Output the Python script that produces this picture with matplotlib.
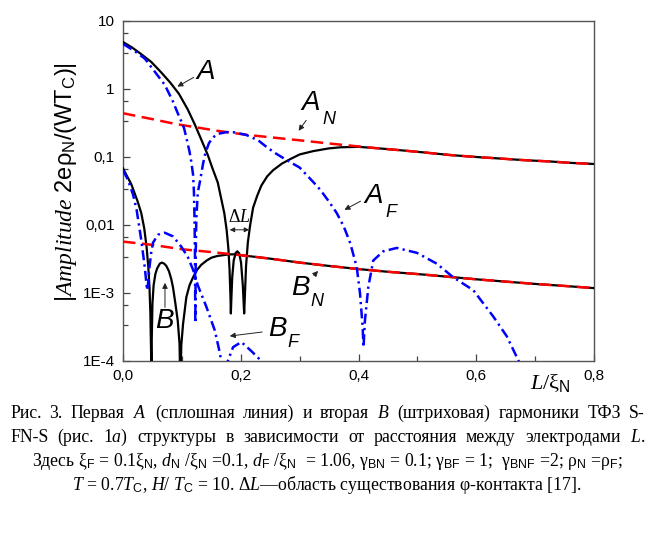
import matplotlib
matplotlib.use('Agg')
import matplotlib.pyplot as plt
from matplotlib.ticker import FixedLocator, NullFormatter

plt.rcParams['mathtext.fontset'] = 'custom'
plt.rcParams['mathtext.rm'] = 'Liberation Sans'
plt.rcParams['mathtext.it'] = 'Liberation Serif:italic'
plt.rcParams['mathtext.sf'] = 'Liberation Sans:italic'
plt.rcParams['font.family'] = ['Liberation Sans', 'DejaVu Sans']

# ---------------- data ----------------
# first harmonic A (black solid)
L_A = [0.000, 0.015, 0.030, 0.048, 0.065, 0.080, 0.095, 0.110, 0.122, 0.133,
       0.144, 0.152, 0.161, 0.167, 0.172, 0.176, 0.179, 0.181, 0.1825, 0.1832,
       0.184, 0.1855, 0.188, 0.1915, 0.1943, 0.1975, 0.2005, 0.2035, 0.205, 0.2058,
       0.207, 0.209, 0.212, 0.216, 0.221, 0.228, 0.235, 0.245, 0.255, 0.270,
       0.284, 0.300, 0.323, 0.350, 0.370, 0.400, 0.430, 0.470, 0.510, 0.555,
       0.600, 0.640, 0.680, 0.725, 0.760, 0.800]
A_val = [4.9, 4.1, 3.3, 2.5, 1.75, 1.25, 0.85, 0.50, 0.30, 0.18,
         0.107, 0.068, 0.042, 0.024, 0.015, 0.0085, 0.0045, 0.0022, 0.0009, 0.0005,
         0.0008, 0.0017, 0.0030, 0.0039, 0.0041, 0.0038, 0.0028, 0.0013, 0.0007, 0.0005,
         0.0009, 0.0025, 0.0055, 0.010, 0.018, 0.027, 0.038, 0.052, 0.064, 0.080,
         0.093, 0.109, 0.122, 0.134, 0.139, 0.141, 0.135, 0.126, 0.117, 0.107,
         0.100, 0.095, 0.090, 0.086, 0.082, 0.079]

# A_N (red dashed)
L_AN = [0.00, 0.05, 0.09, 0.13, 0.16, 0.21, 0.25, 0.30, 0.35, 0.40,
        0.43, 0.47, 0.51, 0.555, 0.60, 0.64, 0.68, 0.725, 0.76, 0.80]
AN_val = [0.44, 0.36, 0.305, 0.268, 0.243, 0.212, 0.195, 0.176, 0.158, 0.143,
          0.135, 0.126, 0.117, 0.107, 0.100, 0.095, 0.090, 0.086, 0.082, 0.079]

# A_F (blue dash-dot)
L_AF = [0.000, 0.020, 0.037, 0.055, 0.071, 0.085, 0.093, 0.100, 0.104, 0.109,
        0.113, 0.116, 0.119, 0.1205, 0.1215, 0.1222, 0.1228, 0.1236, 0.1245, 0.127,
        0.131, 0.136, 0.140, 0.146, 0.153, 0.162, 0.176, 0.190, 0.210, 0.230,
        0.244, 0.260, 0.278, 0.300, 0.323, 0.335, 0.350, 0.363, 0.375, 0.386,
        0.397, 0.4025, 0.407, 0.4085, 0.411, 0.4167, 0.425, 0.442, 0.465, 0.499,
        0.533, 0.561, 0.595, 0.629, 0.652, 0.672, 0.680]
AF_val = [4.6, 3.6, 2.8, 1.75, 1.15, 0.65, 0.44, 0.32, 0.26, 0.17,
          0.12, 0.085, 0.055, 0.030, 0.012, 0.004, 0.00036, 0.004, 0.012, 0.030,
          0.045, 0.080, 0.115, 0.160, 0.195, 0.220, 0.232, 0.230, 0.210, 0.175,
          0.140, 0.112, 0.090, 0.070, 0.043, 0.033, 0.022, 0.015, 0.0095, 0.0054,
          0.0024, 0.0010, 0.00032, 0.00016, 0.0004, 0.00123, 0.0030, 0.0041, 0.0046, 0.0039,
          0.0027, 0.0017, 0.0011, 0.00045, 0.00023, 0.0001, 0.00006]

# second harmonic B (black solid)
L_B = [0.000, 0.007, 0.014, 0.025, 0.031, 0.036, 0.040, 0.043, 0.045, 0.0465,
       0.0478, 0.0482, 0.0488, 0.050, 0.052, 0.055, 0.058, 0.0625, 0.066, 0.070,
       0.0736, 0.078, 0.082, 0.085, 0.089, 0.093, 0.096, 0.0975, 0.099, 0.102,
       0.1076, 0.113, 0.119, 0.126, 0.133, 0.142, 0.150, 0.160, 0.170, 0.180,
       0.190, 0.200, 0.250, 0.300, 0.350, 0.400, 0.450, 0.500, 0.550, 0.600,
       0.650, 0.700, 0.750, 0.800]
B_val = [0.068, 0.052, 0.040, 0.022, 0.015, 0.009, 0.0048, 0.0024, 0.0012, 0.0005,
         0.00012, 0.00004, 0.0002, 0.0007, 0.0013, 0.0019, 0.0023, 0.0027, 0.0028, 0.0027,
         0.0025, 0.0021, 0.0016, 0.0012, 0.0007, 0.00039, 0.00018, 0.00004, 0.00017, 0.00035,
         0.00087, 0.0013, 0.0017, 0.0022, 0.0026, 0.0030, 0.0033, 0.0035, 0.0036, 0.0037,
         0.0037, 0.0036, 0.0032, 0.0028, 0.0025, 0.00225, 0.00205, 0.0019, 0.00174, 0.00159,
         0.00147, 0.00136, 0.00127, 0.00118]

# B_N (red dashed)
L_BN = [0.00, 0.05, 0.10, 0.15, 0.20, 0.25, 0.30, 0.35, 0.40, 0.45,
        0.50, 0.55, 0.60, 0.65, 0.70, 0.75, 0.80]
BN_val = [0.0057, 0.0051, 0.0044, 0.0040, 0.0036, 0.0032, 0.0028, 0.0025, 0.00225, 0.00205,
          0.0019, 0.00174, 0.00159, 0.00147, 0.00136, 0.00127, 0.00118]

# B_F (blue dash-dot)
L_BF = [0.000, 0.0085, 0.017, 0.023, 0.031, 0.037, 0.040, 0.041, 0.043, 0.045,
        0.048, 0.051, 0.0594, 0.0708, 0.085, 0.099, 0.110, 0.119, 0.127, 0.1415,
        0.156, 0.163, 0.167, 0.1725, 0.178, 0.187, 0.201, 0.218, 0.235, 0.245]
BF_val = [0.064, 0.046, 0.028, 0.017, 0.006, 0.0024, 0.0013, 0.0011, 0.0015, 0.0024,
          0.0040, 0.0055, 0.0072, 0.0077, 0.0068, 0.0048, 0.0034, 0.0022, 0.0013, 0.00063,
          0.00028, 0.00015, 0.0001, 0.00003, 0.0001, 0.00016, 0.00019, 0.00014, 0.0001, 0.00006]

y_ticks = [1e-4, 1e-3, 1e-2, 1e-1, 1, 10]
y_ticklabels = ['1E-4', '1E-3', '0,01', '0,1', '1', '10']
x_ticks = [0.0, 0.2, 0.4, 0.6, 0.8]
x_ticklabels = ['0,0', '0,2', '0,4', '0,6', '0,8']

# ---------------- figure ----------------
fig = plt.figure(figsize=(6.53, 5.40), dpi=100)
ax = fig.add_axes([123/653, 1 - 361/540, 471/653, 340/540])

BLACK = '#000000'
RED = '#ff0000'
BLUE = '#0000ff'

ax.plot(L_A, A_val, color=BLACK, lw=1.6, zorder=3)
ax.plot(L_B, B_val, color=BLACK, lw=1.6, zorder=3)
ax.plot(L_AN, AN_val, color=RED, lw=1.8, dashes=(5, 2.6), zorder=4)
ax.plot(L_BN, BN_val, color=RED, lw=1.8, dashes=(5, 2.6), zorder=4)
ax.plot(L_AF, AF_val, color=BLUE, lw=1.8, dashes=(4, 1.7, 0.9, 1.7), zorder=5)
ax.plot(L_BF, BF_val, color=BLUE, lw=1.8, dashes=(4, 1.7, 0.9, 1.7), zorder=5)

ax.set_yscale('log')
ax.set_xlim(0, 0.8)
ax.set_ylim(1e-4, 10)
ax.set_yticks(y_ticks)
ax.set_yticklabels(y_ticklabels)
minor_y = []
for k in range(-4, 1):
    minor_y += [10**k * 10/3, 10**k * 20/3]
ax.yaxis.set_minor_locator(FixedLocator(minor_y))
ax.yaxis.set_minor_formatter(NullFormatter())
ax.set_xticks(x_ticks)
ax.set_xticklabels(x_ticklabels)
ax.xaxis.set_minor_locator(FixedLocator([0.1, 0.3, 0.5, 0.7]))

ax.tick_params(which='both', direction='in', color='#444444', width=0.9,
               labelsize=11, top=False, right=False)
ax.tick_params(which='major', length=5)
ax.tick_params(which='minor', length=3.5)
ax.tick_params(axis='y', which='both', pad=6)
ax.tick_params(axis='x', which='both', pad=6)
for s in ax.spines.values():
    s.set_color('#555555')
    s.set_linewidth(1.0)

# axis labels
fig.text(66/653, 1 - 182/540,
         r'|$\mathit{Amplitude}$ 2eρ$_\mathrm{N}$/(WT$_\mathrm{C}$)|',
         rotation=90, ha='center', va='center', fontsize=17,
         family='Liberation Sans')
fig.text(550/653, 1 - 383/540, r'$\mathit{L}$/ξ$_\mathrm{N}$',
         ha='center', va='center', fontsize=16, family='Liberation Serif')

# curve labels
lab = dict(fontsize=20, style='italic', family='Liberation Sans', ha='center', va='center')
sub = dict(fontsize=13, style='italic', family='Liberation Sans', ha='left', va='center')
arr = dict(arrowstyle='-|>', color='#222222', lw=0.7, mutation_scale=8)

ax.text(0.141, 1.78, 'A', **lab)
ax.annotate('', xy=(0.0883, 1.035), xytext=(0.124, 1.55), arrowprops=arr)

ax.text(0.319, 0.622, 'A', **lab)
ax.text(0.339, 0.36, 'N', **sub)
ax.annotate('', xy=(0.2955, 0.2254), xytext=(0.314, 0.374), arrowprops=arr)

ax.text(0.426, 0.0267, 'A', **lab)
ax.text(0.446, 0.0155, 'F', **sub)
ax.annotate('', xy=(0.372, 0.016), xytext=(0.4076, 0.0234), arrowprops=arr)

ax.text(0.302, 1.19e-3, 'B', **lab)
ax.text(0.318, 7.6e-4, 'N', **sub)
ax.annotate('', xy=(0.3346, 2.26e-3), xytext=(0.321, 1.69e-3), arrowprops=arr)

ax.text(0.0696, 3.9e-4, 'B', **lab)
ax.annotate('', xy=(0.0713, 1.55e-3), xytext=(0.0713, 5.6e-4), arrowprops=arr)

ax.text(0.263, 2.96e-4, 'B', **lab)
ax.text(0.280, 1.9e-4, 'F', **sub)
ax.annotate('', xy=(0.1766, 2.3e-4), xytext=(0.241, 2.7e-4), arrowprops=arr)

ax.text(0.197, 0.0131, r'Δ$\mathit{L}$', fontsize=13, family='Liberation Serif',
        ha='center', va='center')
ax.annotate('', xy=(0.1766, 8.5e-3), xytext=(0.219, 8.5e-3),
            arrowprops=dict(arrowstyle='<|-|>', color='#222222', lw=0.7, mutation_scale=7))

# caption
cap = [
    r'Рис. 3. Первая $\mathit{A}$ (сплошная линия) и вторая $\mathit{B}$ (штриховая) гармоники ТФЗ S-',
    r'FN-S (рис. 1$\mathit{a}$) структуры в зависимости от расстояния между электродами $\mathit{L}$.',
    r'Здесь ξ$_\mathrm{F}$ = 0.1ξ$_\mathrm{N}$, $\mathit{d}_\mathrm{N}$ /ξ$_\mathrm{N}$ =0.1, $\mathit{d}_\mathrm{F}$ /ξ$_\mathrm{N}$  = 1.06, γ$_\mathrm{BN}$ = 0.1; γ$_\mathrm{BF}$ = 1;  γ$_\mathrm{BNF}$ =2; ρ$_\mathrm{N}$ =ρ$_\mathrm{F}$;',
    r'$\mathit{T}$ = 0.7$\mathit{T}_\mathrm{C}$, $\mathit{H}$/ $\mathit{T}_\mathrm{C}$ = 10. Δ$\mathit{L}$—область существования φ-контакта [17].',
]
cap_y = [413, 437, 461, 485]
cap_fs = 12.8
renderer = fig.canvas.get_renderer()
x_left, x_right = 10, 645
for i, (t, yy) in enumerate(zip(cap, cap_y)):
    yf = 1 - yy / 540
    if i < 2:
        # justified lines: place words individually
        words = t.split(' ')
        objs = [fig.text(0, yf, w, ha='left', va='center', fontsize=cap_fs,
                         family='Liberation Serif') for w in words]
        widths = [o.get_window_extent(renderer).width for o in objs]
        gap = (x_right - x_left - sum(widths)) / (len(words) - 1)
        x = x_left
        for o, w in zip(objs, widths):
            o.set_x(x / 653)
            x += w + gap
    else:
        fig.text(327/653, yf, t, ha='center', va='center', fontsize=cap_fs,
                 family='Liberation Serif')

fig.savefig('out.png', dpi=100)
